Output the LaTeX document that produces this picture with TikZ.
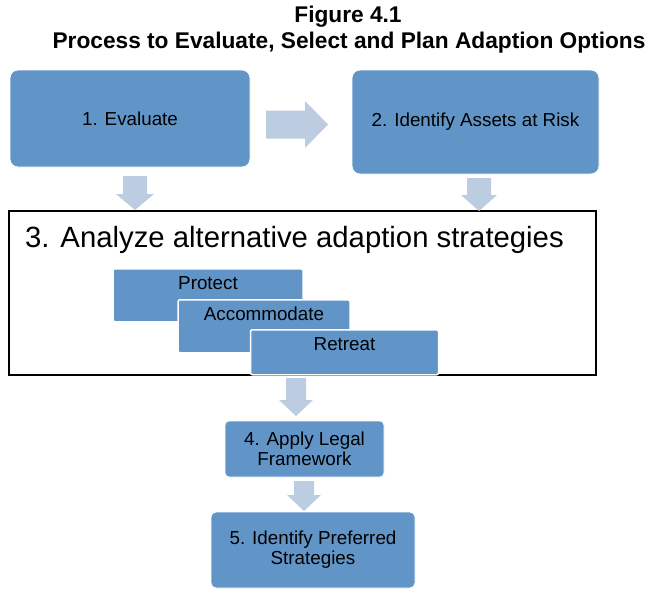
\documentclass[tikz,border=0pt]{standalone}
\usepackage{fontspec}
\setmainfont{Liberation Sans}
\usepackage{xcolor}
\usetikzlibrary{positioning}

\definecolor{stepblue}{HTML}{6195C8}
\definecolor{flowgrey}{HTML}{BCCDE2}

\tikzset{
    step box/.style={rectangle, rounded corners=8pt, fill=stepblue, draw=white, line width=0.8pt,
        inner sep=0pt, align=center, font=\fontsize{18.8}{20}\selectfont},
    option box/.style={rectangle, rounded corners=2pt, fill=stepblue, draw=white, line width=1.5pt,
        inner sep=0pt, minimum width=#1, text height=21pt, font=\fontsize{18.8}{20}\selectfont},
    pics/flowarrow/.style n args={4}{code={
        \fill[flowgrey] (0,-#1) -- ({#3-#4},-#1) -- ({#3-#4},-#2) -- (#3,0)
            -- ({#3-#4},#2) -- ({#3-#4},#1) -- (0,#1) -- cycle;
    }}
}

\begin{document}
\begin{tikzpicture}[x=1pt, y=-1pt]
    \useasboundingbox (0,0) rectangle (651,589);

    % Title
    \node[font=\fontsize{22.7}{26}\selectfont\bfseries] (fig) at (348,17) {Figure 4.1};
    \node[font=\fontsize{22.7}{26}\selectfont\bfseries] (title) at (349,43) {Process to Evaluate, Select and Plan Adaption Options};

    % Steps 1 and 2
    \node[step box, minimum width=240pt, minimum height=97pt] (evaluate) at (130,118.5) {1. Evaluate};
    \node[step box, minimum width=247pt, minimum height=104pt] (assets) at (475.5,122) {2. Identify Assets at Risk};
    \pic at (266,124.5) {flowarrow={14}{23.5}{62}{23}};

    % Step 3 with the three options
    \node[draw=black, line width=1.5pt, fill=white, minimum width=587pt, minimum height=164pt, inner sep=0pt] (analyze) at (302.5,293) {};
    \node[anchor=base west, inner sep=0pt, font=\fontsize{29.3}{32}\selectfont] (analyzetext) at (25,247) {3. Analyze alternative adaption strategies};
    \node[option box=190pt, text depth=32pt, anchor=north] (protect) at (208,268) {Protect};
    \node[option box=172pt, text depth=32pt, anchor=north] (accommodate) at (264,299) {Accommodate};
    \node[option box=188pt, text depth=24pt, anchor=north] (retreat) at (344.5,329) {Retreat};
    \pic[rotate=-90] at (135,176) {flowarrow={12}{19}{34}{16}};
    \pic[rotate=-90] at (479,178) {flowarrow={12}{18}{33}{16}};

    % Steps 4 and 5
    \pic[rotate=-90] at (296,378) {flowarrow={10}{17}{38}{16}};
    \node[step box, rounded corners=4pt, minimum width=159pt, minimum height=56pt] (legal) at (304.5,449) {4. Apply Legal\\Framework};
    \pic[rotate=-90] at (304,481) {flowarrow={10}{17}{30}{16}};
    \node[step box, rounded corners=5pt, minimum width=204pt, minimum height=76pt] (preferred) at (313,550) {5. Identify Preferred\\Strategies};
\end{tikzpicture}
\end{document}
